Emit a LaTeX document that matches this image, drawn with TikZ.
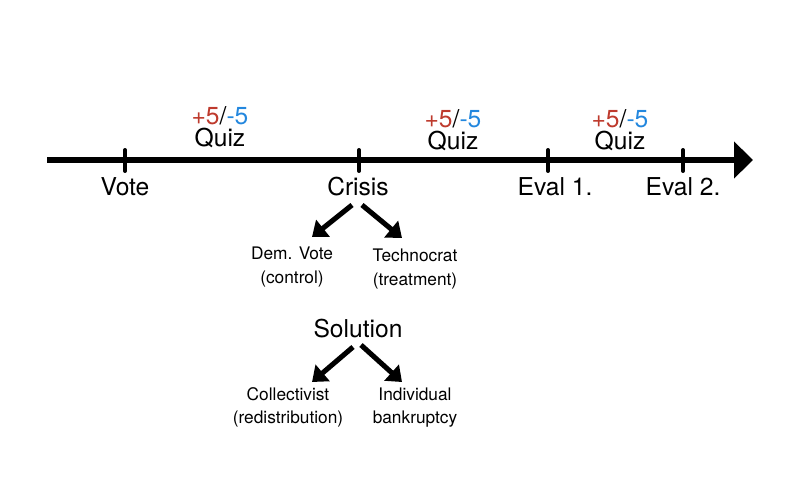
\documentclass[tikz,border=0pt]{standalone}
\usepackage{xcolor}
\usepackage{fontspec}
\setmainfont{TeX Gyre Heros}
\usepackage{tikz}
\usetikzlibrary{arrows.meta,calc}

\definecolor{plusred}{RGB}{190,58,45}
\definecolor{minusblue}{RGB}{35,135,222}

\newcommand{\score}{\textcolor{plusred}{+5}/\textcolor{minusblue}{-5}}

\begin{document}
\begin{tikzpicture}[
    x=0.025cm, y=-0.025cm, % one unit = one pixel of the layout
    every node/.style={inner sep=0pt, align=center},
    big/.style={font=\fontsize{17.5}{20}\selectfont},
    quiz/.style={font=\fontsize{17.5}{15.5}\selectfont},
    small/.style={font=\fontsize{12.3}{16.4}\selectfont},
    axis/.style={line width=4.3pt, -{Triangle[length=13.5pt, width=25.6pt]}},
    tick/.style={line width=2.8pt, line cap=round},
    branch/.style={line width=3.6pt, -{Triangle[length=10pt, width=15pt]}}
]
\useasboundingbox (0,0) rectangle (800,480);

% Timeline
\coordinate (start) at (47,160);
\coordinate (stop) at (753,160);
\draw[axis] (start) -- (stop);
\foreach \x in {125,359,548,683}
    \draw[tick] (\x,150) -- (\x,171);

% Nodes
\node[big] (vote) at (125,187) {Vote};
\node[big] (crisis) at (358,187) {Crisis};
\node[big] (evalone) at (555,187) {Eval 1.};
\node[big] (evaltwo) at (683,187) {Eval 2.};

\node[quiz] (quizone) at (220,127) {\score\\Quiz};
\node[quiz] (quiztwo) at (453,130) {\score\\Quiz};
\node[quiz] (quizthree) at (620,130) {\score\\Quiz};

\node[small] (dem) at (292,267) {Dem. Vote\\(control)};
\node[small] (techno) at (415,269) {Technocrat\\(treatment)};
\node[big] (solution) at (358,329) {Solution};
\node[small] (collect) at (288,407) {Collectivist\\(redistribution)};
\node[small] (indiv) at (415,408) {Individual\\bankruptcy};

% Edges
\draw[branch] ($(crisis)+(-6,18)$) -- ($(dem)+(20,-30)$);
\draw[branch] ($(crisis)+(4,18)$) -- ($(techno)+(-13,-31)$);
\draw[branch] ($(solution)+(-5,18)$) -- ($(collect)+(24,-25)$);
\draw[branch] ($(solution)+(3,16)$) -- ($(indiv)+(-13,-26)$);

\end{tikzpicture}
\end{document}
